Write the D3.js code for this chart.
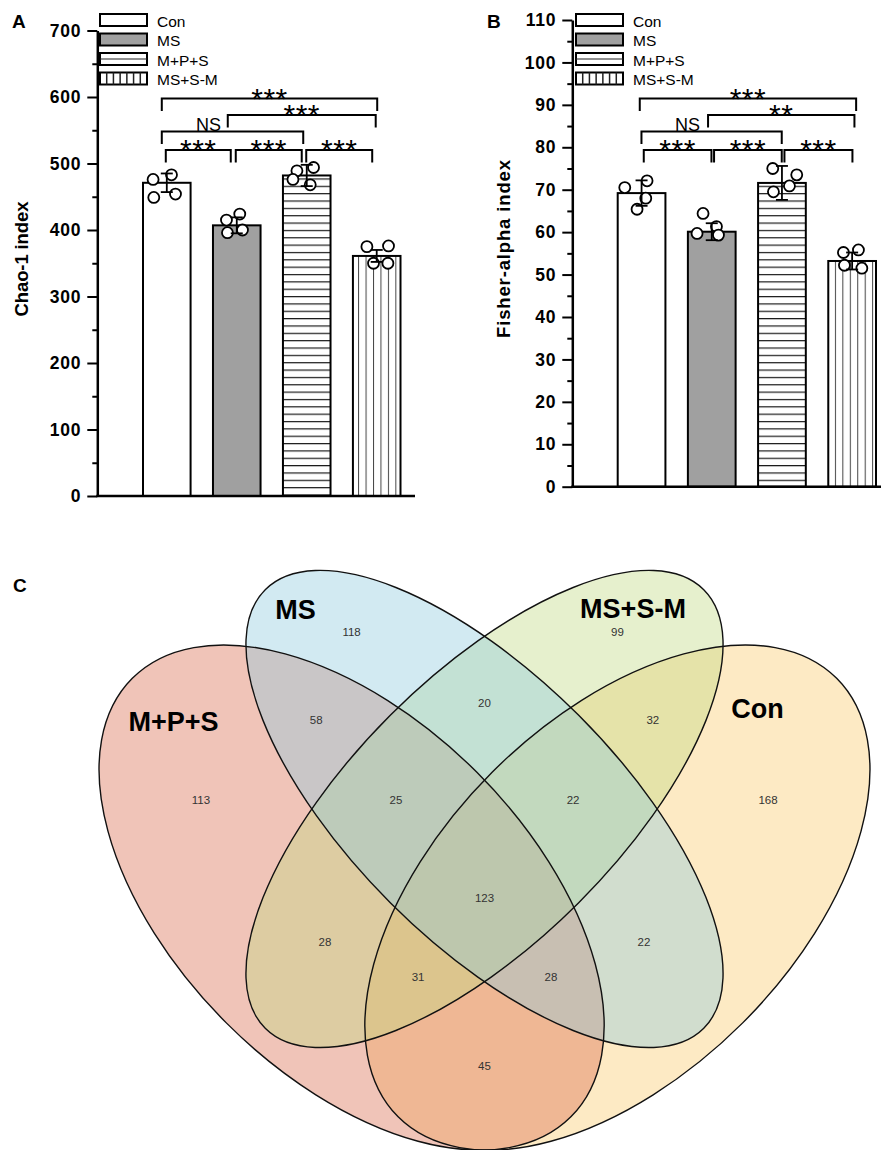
<!DOCTYPE html>
<html><head><meta charset="utf-8">
<script src="https://cdn.jsdelivr.net/npm/d3@7"></script>
<style>
body{margin:0;background:#fff}
svg{display:block}
text{font-family:"Liberation Sans",Arial,sans-serif}
</style>
</head><body>
<svg id="chart" width="881" height="1150"></svg>
<script>
// ---------------- DATA ----------------
const groups = ["Con", "MS", "M+P+S", "MS+S-M"];

const chaoMean = [471, 407, 482, 361];
const chaoErr = [14, 12, 16, 9];
const chaoPoints = [[476, 483, 449, 454], [415, 424, 396, 400], [489, 494, 476, 468], [375, 376, 350, 350]];
const chaoTicks = [0, 100, 200, 300, 400, 500, 600, 700];
const chaoMinor = [50, 150, 250, 350, 450, 550, 650];

const fisherMean = [69.2, 60.1, 71.6, 53.2];
const fisherErr = [3, 2, 4, 2];
const fisherPoints = [[70.5, 72.1, 65.4, 68.0], [64.4, 61.3, 59.7, 59.3], [75.0, 73.5, 69.5, 70.9], [55.2, 55.8, 52.2, 51.5]];
const fisherTicks = [0, 10, 20, 30, 40, 50, 60, 70, 80, 90, 100, 110];
const fisherMinor = [5, 15, 25, 35, 45, 55, 65, 75, 85, 95, 105];

const comparisons = [[0, 1], [1, 2], [2, 3], [0, 2], [1, 3], [0, 3]];
const chaoSig = ["***", "***", "***", "NS", "***", "***"];
const fisherSig = ["***", "***", "***", "NS", "**", "***"];

const vennSets = ["M+P+S", "MS", "MS+S-M", "Con"];
// region counts, in order of vennRegionPos below
const vennCounts = [113, 118, 99, 168, 58, 20, 32, 25, 22, 123, 28, 22, 31, 28, 45];

// ---------------- LAYOUT ----------------
const svg = d3.select("#chart");
const defs = svg.append("defs");

const fills = ["#ffffff", "#a0a0a0", "url(#hl)", "url(#vl)"];

function makePatterns() {
  const h = defs.append("pattern").attr("id", "hl").attr("patternUnits", "userSpaceOnUse")
    .attr("width", 20).attr("height", 7.35).attr("y", 2);
  h.append("rect").attr("width", 20).attr("height", 7.35).attr("fill", "#fff");
  h.append("rect").attr("width", 20).attr("height", 1.2).attr("fill", "#1a1a1a");
  const v = defs.append("pattern").attr("id", "vl").attr("patternUnits", "userSpaceOnUse")
    .attr("width", 7.45).attr("height", 20).attr("x", 0.5);
  v.append("rect").attr("width", 7.45).attr("height", 20).attr("fill", "#fff");
  v.append("rect").attr("width", 1).attr("height", 20).attr("fill", "#444");
}
makePatterns();

const bracketLevels = [150, 150, 150, 131.5, 115, 98.5];
const legY = [14, 33.5, 53, 72.5];

function drawPanel(o) {
  const g = svg.append("g");
  const x = d3.scaleBand().domain(groups).range(o.bandRange).paddingInner(0.32).paddingOuter(0);
  const y = d3.scaleLinear().domain([0, o.max]).range(o.yRange);
  const cx = i => x(groups[i]) + x.bandwidth() / 2;

  // bars
  g.selectAll("rect.bar").data(groups).join("rect").attr("class", "bar")
    .attr("x", d => x(d)).attr("y", (d, i) => y(o.mean[i]))
    .attr("width", x.bandwidth()).attr("height", (d, i) => y(0) - y(o.mean[i]))
    .attr("fill", (d, i) => fills[i]).attr("stroke", "#000").attr("stroke-width", 2);

  // points
  const pts = [];
  o.points.forEach((arr, i) => arr.forEach((v, k) => pts.push({ i, v, dx: o.jitter[i][k] })));
  g.selectAll("circle.pt").data(pts).join("circle").attr("class", "pt")
    .attr("cx", d => cx(d.i) + d.dx).attr("cy", d => y(d.v)).attr("r", 5.5)
    .attr("fill", "#fff").attr("stroke", "#000").attr("stroke-width", 1.8);

  // error bars
  const eg = g.append("g").attr("stroke", "#000").attr("stroke-width", 1.8);
  groups.forEach((d, i) => {
    const c = cx(i), top = y(o.mean[i] + o.err[i]), bot = y(o.mean[i] - o.err[i]);
    eg.append("line").attr("x1", c).attr("x2", c).attr("y1", top).attr("y2", bot);
    eg.append("line").attr("x1", c - 6).attr("x2", c + 6).attr("y1", top).attr("y2", top);
    eg.append("line").attr("x1", c - 6).attr("x2", c + 6).attr("y1", bot).attr("y2", bot);
  });

  // axes
  const ax = g.append("g").attr("transform", `translate(${o.axisX},0)`)
    .call(d3.axisLeft(y).tickValues(o.ticks).tickSize(10).tickSizeOuter(0).tickPadding(6).tickFormat(d3.format("d")));
  ax.attr("font-family", "Liberation Sans, Arial, sans-serif");
  ax.select(".domain").attr("stroke", "#000").attr("stroke-width", 2.5);
  ax.selectAll(".tick line").attr("stroke", "#000").attr("stroke-width", 2);
  ax.selectAll(".tick text").attr("font-size", 17.5).attr("font-weight", "bold").attr("fill", "#000")
    .attr("letter-spacing", 0.8);
  const mx = g.append("g").attr("transform", `translate(${o.axisX},0)`)
    .call(d3.axisLeft(y).tickValues(o.minor).tickSize(5).tickFormat(""));
  mx.select(".domain").remove();
  mx.selectAll(".tick line").attr("stroke", "#000").attr("stroke-width", 2);
  g.append("line").attr("x1", o.axisX - 1).attr("x2", o.xEnd).attr("y1", y(0)).attr("y2", y(0))
    .attr("stroke", "#000").attr("stroke-width", 2.5);

  // y title
  g.append("text").attr("transform", `translate(${o.titleX},${o.titleY}) rotate(-90)`)
    .attr("text-anchor", "middle").attr("dominant-baseline", "central")
    .attr("font-size", 18.5).attr("font-weight", "bold").attr("textLength", o.titleLen)
    .attr("lengthAdjust", "spacing").text(o.title);

  // panel letter
  g.append("text").attr("x", o.letterX).attr("y", 28).attr("font-size", 19).attr("font-weight", "bold").text(o.letter);

  // legend
  const lg = g.append("g");
  groups.forEach((d, i) => {
    const bx = o.legendX, by = legY[i], bw = 47, bh = 12;
    lg.append("rect").attr("x", bx).attr("y", by).attr("width", bw).attr("height", bh)
      .attr("fill", i === 1 ? "#a0a0a0" : "#fff").attr("stroke", "#000").attr("stroke-width", 2);
    if (i === 2) lg.append("line").attr("x1", bx).attr("x2", bx + bw).attr("y1", by + bh / 2).attr("y2", by + bh / 2)
      .attr("stroke", "#222").attr("stroke-width", 1.2);
    if (i === 3) d3.range(1, 7).forEach(k => lg.append("line").attr("x1", bx + k * bw / 7).attr("x2", bx + k * bw / 7)
      .attr("y1", by).attr("y2", by + bh).attr("stroke", "#222").attr("stroke-width", 1.5));
    lg.append("text").attr("x", bx + 57).attr("y", by + 12.7).attr("font-size", 15.5).text(d);
  });

  // significance brackets
  const bg = g.append("g");
  comparisons.forEach((c, k) => {
    const x1 = cx(c[0]) + o.bOff[k][0], x2 = cx(c[1]) + o.bOff[k][1];
    const ly = bracketLevels[k];
    bg.append("path").attr("d", `M${x1},${ly + 12.5}V${ly}H${x2}V${ly + 12.5}`)
      .attr("fill", "none").attr("stroke", "#000").attr("stroke-width", 2);
    const lab = o.sig[k];
    const t = bg.append("text").attr("text-anchor", "middle").text(lab);
    if (lab === "NS") t.attr("x", (x1 + x2) / 2 - 24).attr("y", ly - 1).attr("font-size", 18);
    else t.attr("x", (x1 + x2) / 2).attr("y", ly + 10).attr("font-size", 30).attr("letter-spacing", 0.5);
  });
}

drawPanel({
  letter: "A", letterX: 12, legendX: 100,
  bandRange: [143, 400.5], yRange: [496, 30.5], max: 700, axisX: 97.3, xEnd: 415,
  mean: chaoMean, err: chaoErr, points: chaoPoints, ticks: chaoTicks, minor: chaoMinor, sig: chaoSig,
  jitter: [[-13.7, 4.7, -13, 8.7], [-10.3, 3, -9.3, 5.7], [-9.8, 6.8, -13.8, 3.5], [-9.8, 11.8, -3.2, 11.2]],
  bOff: [[-1, -6], [-1, -5], [-0.5, -4.5], [-5, -3.5], [-9, -1], [-5, 0.5]],
  title: "Chao-1 index", titleX: 21.5, titleY: 259, titleLen: 115
});

drawPanel({
  letter: "B", letterX: 487, legendX: 576,
  bandRange: [617.7, 876], yRange: [486.7, 20], max: 110, axisX: 572.3, xEnd: 881,
  mean: fisherMean, err: fisherErr, points: fisherPoints, ticks: fisherTicks, minor: fisherMinor, sig: fisherSig,
  jitter: [[-16.8, 5.5, -4.5, 4.2], [-8.7, 4.7, -14.7, 6.7], [-9.2, 14.8, -8.5, 7.5], [-8.7, 6.3, -7.7, 9.7]],
  bOff: [[2.2, -0.3], [2.3, -0.2], [2.5, 0.3], [-0.1, -0.2], [-3.7, 2.3], [-1.8, 4]],
  title: "Fisher-alpha index", titleX: 503, titleY: 249, titleLen: 178
});

// ---------------- VENN ----------------
svg.append("text").attr("x", 13).attr("y", 592).attr("font-size", 19).attr("font-weight", "bold").text("C");

const vx = d3.scaleLinear().domain([0, 1]).range([41.5, 927.5]);
const vy = d3.scaleLinear().domain([0, 1]).range([1314, 428]);
const unit = vx(1) - vx(0);

// standard 4-set ellipse layout (drawing order bottom to top)
const vennEllipses = [
  { set: "Con", x: 0.65, y: 0.47, a: 0.35, b: 0.20, rot: -45, color: "#faca6b" },
  { set: "M+P+S", x: 0.35, y: 0.47, a: 0.35, b: 0.20, rot: 45, color: "#d96b4d" },
  { set: "MS+S-M", x: 0.50, y: 0.57, a: 0.35, b: 0.15, rot: -45, color: "#c0d982" },
  { set: "MS", x: 0.50, y: 0.57, a: 0.35, b: 0.15, rot: 45, color: "#8ecade" }
];
const vg = svg.append("g");
vg.selectAll("ellipse.fill").data(vennEllipses).join("ellipse").attr("class", "fill")
  .attr("cx", d => vx(d.x)).attr("cy", d => vy(d.y)).attr("rx", d => d.a * unit).attr("ry", d => d.b * unit)
  .attr("transform", d => `rotate(${d.rot},${vx(d.x)},${vy(d.y)})`)
  .attr("fill", d => d.color).attr("fill-opacity", 0.4).attr("stroke", "none");
vg.selectAll("ellipse.line").data(vennEllipses).join("ellipse").attr("class", "line")
  .attr("cx", d => vx(d.x)).attr("cy", d => vy(d.y)).attr("rx", d => d.a * unit).attr("ry", d => d.b * unit)
  .attr("transform", d => `rotate(${d.rot},${vx(d.x)},${vy(d.y)})`)
  .attr("fill", "none").attr("stroke", "#111").attr("stroke-width", 1.4);

const vennRegionPos = [
  [0.18, 0.58], [0.35, 0.77], [0.65, 0.77], [0.82, 0.58],
  [0.31, 0.67], [0.50, 0.69], [0.69, 0.67],
  [0.40, 0.58], [0.60, 0.58], [0.50, 0.47],
  [0.32, 0.42], [0.68, 0.42], [0.425, 0.38], [0.575, 0.38], [0.50, 0.28]
];
vg.selectAll("text.cnt").data(vennCounts).join("text").attr("class", "cnt")
  .attr("x", (d, i) => vx(vennRegionPos[i][0])).attr("y", (d, i) => vy(vennRegionPos[i][1]))
  .attr("text-anchor", "middle").attr("dominant-baseline", "central")
  .attr("font-family", "Liberation Serif, Times New Roman, serif").attr("font-size", 11.5).attr("fill", "#333")
  .text(d => d);

const vennSetPos = [[0.149, 0.658], [0.2867, 0.7844], [0.6676, 0.7856], [0.808, 0.6727]];
vg.selectAll("text.set").data(vennSets).join("text").attr("class", "set")
  .attr("x", (d, i) => vx(vennSetPos[i][0])).attr("y", (d, i) => vy(vennSetPos[i][1]))
  .attr("text-anchor", "middle").attr("font-size", 27).attr("font-weight", "bold").attr("fill", "#000")
  .text(d => d);
</script>
</body></html>
